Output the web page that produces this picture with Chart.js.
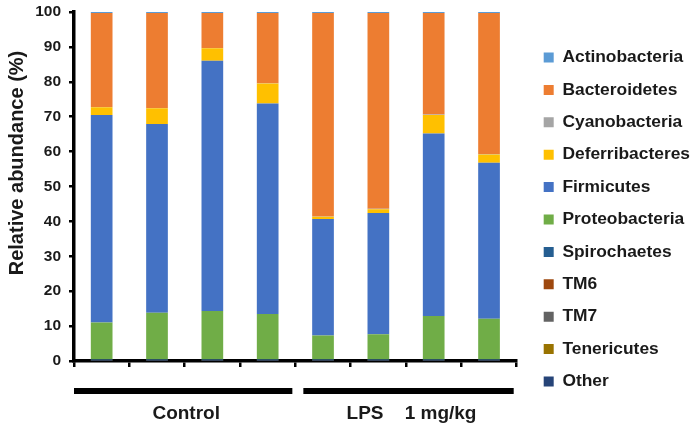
<!DOCTYPE html>
<html><head><meta charset="utf-8">
<script src="https://cdn.jsdelivr.net/npm/chart.js@4"></script>
<style>html,body{margin:0;padding:0;background:#fff}</style>
</head><body>
<canvas id="c" width="700" height="427"></canvas>
<script>
// ---- data ----
const categories = ['Control 1','Control 2','Control 3','Control 4','LPS 1','LPS 2','LPS 3','LPS 4'];
const groups = ['Control', 'LPS    1 mg/kg'];
const groupSizes = [4, 4];
const yTitle = 'Relative abundance (%)';
const yMin = 0, yMax = 100, yStep = 10;

// stacked bottom -> top
const other          = [0.1, 0.1, 0.1, 0.1, 0.1, 0.1, 0.1, 0.1];
const tenericutes    = [0.1, 0.1, 0.1, 0.1, 0.1, 0.1, 0.1, 0.1];
const tm7            = [0.05,0.05,0.05,0.05,0.05,0.05,0.05,0.05];
const tm6            = [0.05,0.05,0.05,0.05,0.05,0.05,0.05,0.05];
const spirochaetes   = [0.1, 0.1, 0.1, 0.1, 0.1, 0.1, 0.1, 0.1];
const proteobacteria = [10.6, 13.4, 13.9, 13.1, 6.9, 7.3, 12.5, 11.7];
const firmicutes     = [59.5, 54.1, 71.7, 60.3, 33.4, 34.7, 52.3, 44.7];
const deferribacteres= [2.2, 4.5, 3.6, 5.7, 0.6, 1.1, 5.3, 2.4];
const cyanobacteria  = [0.1, 0.1, 0.1, 0.1, 0.1, 0.1, 0.1, 0.1];
const bacteroidetes  = [26.9, 27.2, 10.0, 20.1, 58.3, 56.1, 29.1, 40.4];
const actinobacteria = [0.3, 0.3, 0.3, 0.3, 0.3, 0.3, 0.3, 0.3];

const seriesNames  = ['Other','Tenericutes','TM7','TM6','Spirochaetes','Proteobacteria','Firmicutes','Deferribacteres','Cyanobacteria','Bacteroidetes','Actinobacteria'];
const seriesValues = [other, tenericutes, tm7, tm6, spirochaetes, proteobacteria, firmicutes, deferribacteres, cyanobacteria, bacteroidetes, actinobacteria];
const seriesColors = ['#264478','#997300','#636363','#9E480E','#255E91','#70AD47','#4472C4','#FFC000','#A5A5A5','#ED7D31','#5B9BD5'];

// ---- chart ----
const FONT = "'Liberation Sans', Arial, sans-serif";
const TXT = '#1a1a1a';
Chart.defaults.font.family = FONT;

const decorPlugin = {
  id: 'decor',
  afterDraw(chart) {
    const ctx = chart.ctx, x = chart.scales.x;
    const half = (x.getPixelForValue(1) - x.getPixelForValue(0)) / 2;
    let start = 0;
    ctx.save();
    groups.forEach((g, i) => {
      const end = start + groupSizes[i] - 1;
      const l = x.getPixelForValue(start) - half + (i ? 8 : 0);
      const r = x.getPixelForValue(end) + half - 3;
      ctx.fillStyle = '#000';
      ctx.fillRect(l, 388, r - l, 6);
      ctx.fillStyle = TXT;
      ctx.font = 'bold 19px ' + FONT;
      ctx.textAlign = 'center';
      ctx.textBaseline = 'alphabetic';
      ctx.fillText(g, (l + r) / 2 + 3, 419);
      start = end + 1;
    });
    ctx.translate(17, 163);
    ctx.rotate(-Math.PI / 2);
    ctx.font = 'bold 20px ' + FONT;
    ctx.textAlign = 'center';
    ctx.textBaseline = 'middle';
    ctx.fillStyle = TXT;
    ctx.fillText(yTitle, 0, 0);
    ctx.restore();
  }
};

const chart = new Chart(document.getElementById('c'), {
  type: 'bar',
  data: {
    labels: categories,
    datasets: seriesNames.map((n, i) => ({
      label: n,
      data: seriesValues[i],
      backgroundColor: seriesColors[i],
      borderWidth: 0,
      barPercentage: 0.392,
      categoryPercentage: 1.0
    }))
  },
  options: {
    responsive: false,
    animation: false,
    layout: { padding: { top: 12, right: 0, left: 0, bottom: 0 } },
    plugins: {
      tooltip: { enabled: false },
      legend: {
        position: 'right',
        reverse: true,
        maxWidth: 220,
        labels: {
          boxWidth: 10, boxHeight: 10, padding: 15,
          color: TXT,
          font: { size: 17.4, weight: 'bold', family: FONT }
        }
      }
    },
    scales: {
      x: {
        stacked: true,
        ticks: { display: false },
        grid: { drawOnChartArea: false, drawTicks: true, tickLength: 6, color: '#000', lineWidth: 2.5 },
        border: { color: '#000', width: 3.5 },
        afterFit(s) { s.height = 66; }
      },
      y: {
        stacked: true,
        min: yMin, max: yMax,
        ticks: { stepSize: yStep, color: TXT, padding: 8, font: { size: 15.5, weight: 'bold', family: FONT, lineHeight: 0.4 } },
        grid: { drawOnChartArea: false, drawTicks: true, tickLength: 5, color: '#000', lineWidth: 2.5 },
        border: { color: '#000', width: 3.5 },
        afterFit(s) { s.width = 74; }
      },
      yR: {
        type: 'linear', position: 'right', display: true,
        grid: { display: false }, border: { display: false }, ticks: { display: false },
        afterFit(s) { s.width = 12; }
      }
    }
  },
  plugins: [decorPlugin]
});
</script>
</body></html>
